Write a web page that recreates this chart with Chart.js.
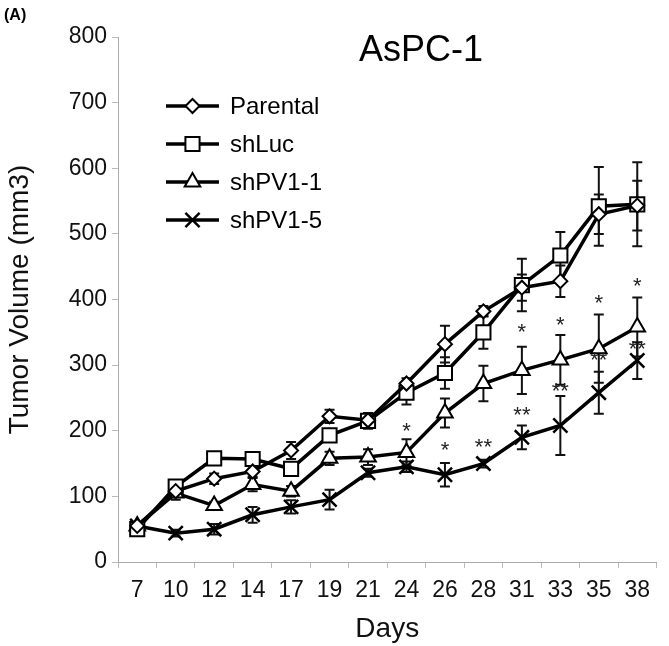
<!DOCTYPE html>
<html>
<head>
<meta charset="utf-8">
<script src="https://cdn.jsdelivr.net/npm/chart.js@4.4.0/dist/chart.umd.min.js"></script>
<style>
  html, body { margin: 0; padding: 0; background: #fff; }
  #wrap { position: relative; width: 669px; height: 646px; }
  #tag { position: absolute; left: 4px; top: 6px; font: bold 16px "Liberation Sans", Arial, sans-serif; color: #000; }
</style>
</head>
<body>
<div id="wrap">
  <canvas id="c" width="669" height="646"></canvas>
  <div id="tag">(A)</div>
</div>
<script>
const days = ['7','10','12','14','17','19','21','24','26','28','31','33','35','38'];
const seriesNames = ['Parental','shLuc','shPV1-1','shPV1-5'];
const parental   = [55, 108, 127, 138, 170, 222, 216, 272, 332, 382, 418, 428, 530, 543];
const shLuc      = [50, 115, 158, 157, 142, 193, 215, 258, 288, 350, 422, 467, 542, 545];
const shPV1_1    = [55, 105, 86, 118, 108, 158, 160, 167, 227, 272, 292, 308, 325, 358];
const shPV1_5    = [55, 44, 50, 72, 84, 95, 136, 145, 133, 150, 190, 208, 258, 307];
const errParental = [5, 8, 8, 8, 13, 10, 8, 8, 28, 8, 20, 24, 30, 38];
const errShLuc    = [5, 8, 6, 6, 8, 8, 12, 18, 24, 25, 40, 36, 60, 64];
const errShPV1_1  = [5, 10, 6, 10, 8, 10, 12, 20, 22, 27, 36, 38, 52, 45];
const errShPV1_5  = [5, 5, 8, 12, 10, 15, 6, 8, 18, 6, 18, 45, 32, 28];
const sigDays   = ['24','26','28','31','31','33','33','35','35','38','38'];
const sigValues = [205, 176, 180, 355, 228, 366, 265, 400, 312, 426, 330];
const sigTexts  = ['*','*','**','*','**','*','**','*','**','*','**'];
const yTicks = [0,100,200,300,400,500,600,700,800];

const FONT = '"Liberation Sans", Arial, sans-serif';

function mk(label, data, style, radius, err) {
  return {
    label, data, err,
    borderColor: '#000', backgroundColor: '#fff',
    borderWidth: 3.5,
    pointStyle: style, pointRadius: radius, pointHoverRadius: radius,
    pointBorderColor: '#000', pointBackgroundColor: '#fff',
    pointBorderWidth: 2,
    tension: 0, fill: false
  };
}

const datasets = [
  mk(seriesNames[0], parental, 'rectRot', 7, errParental),
  mk(seriesNames[1], shLuc, 'rect', 10, errShLuc),
  mk(seriesNames[2], shPV1_1, 'triangle', 9, errShPV1_1),
  mk(seriesNames[3], shPV1_5, 'crossRot', 10, errShPV1_5)
];
datasets[3].pointBorderWidth = 2.5;

const errorBars = {
  id: 'errorBars',
  beforeDatasetsDraw(chart) {
    const ctx = chart.ctx, x = chart.scales.x, y = chart.scales.y;
    ctx.save();
    ctx.strokeStyle = '#111';
    ctx.lineWidth = 2;
    chart.data.datasets.forEach(ds => {
      ds.data.forEach((v, i) => {
        const px = x.getPixelForValue(i);
        const top = y.getPixelForValue(v + ds.err[i]);
        const bot = y.getPixelForValue(v - ds.err[i]);
        ctx.beginPath();
        ctx.moveTo(px, top); ctx.lineTo(px, bot);
        ctx.moveTo(px - 5, top); ctx.lineTo(px + 5, top);
        ctx.moveTo(px - 5, bot); ctx.lineTo(px + 5, bot);
        ctx.stroke();
      });
    });
    ctx.restore();
  }
};

const extras = {
  id: 'extras',
  afterDraw(chart) {
    const ctx = chart.ctx, x = chart.scales.x, y = chart.scales.y, ca = chart.chartArea;
    ctx.save();
    // significance marks
    ctx.fillStyle = '#222';
    ctx.font = '22px ' + FONT;
    ctx.textAlign = 'center';
    ctx.textBaseline = 'middle';
    sigDays.forEach((d, i) => {
      const px = x.getPixelForValue(days.indexOf(d));
      const py = y.getPixelForValue(sigValues[i]);
      ctx.fillText(sigTexts[i], px, py + 4);
    });
    // title
    ctx.fillStyle = '#000';
    ctx.font = '36px ' + FONT;
    ctx.fillText('AsPC-1', ca.left + 303, ca.top + 14);
    // legend
    const lx0 = ca.left + 48, lx1 = ca.left + 101, tx = ca.left + 112;
    ctx.font = '24px ' + FONT;
    ctx.textAlign = 'left';
    chart.data.datasets.forEach((ds, i) => {
      const ly = ca.top + 69 + i * 38;
      ctx.strokeStyle = '#000';
      ctx.lineWidth = 3.5;
      ctx.beginPath(); ctx.moveTo(lx0, ly); ctx.lineTo(lx1, ly); ctx.stroke();
      ctx.fillStyle = '#fff';
      ctx.strokeStyle = '#000';
      ctx.lineWidth = ds.pointBorderWidth;
      Chart.helpers.drawPoint(ctx, {
        pointStyle: ds.pointStyle, radius: ds.pointRadius, borderWidth: ds.pointBorderWidth, rotation: 0
      }, (lx0 + lx1) / 2, ly);
      ctx.fillStyle = '#000';
      ctx.fillText(ds.label, tx, ly + 1);
    });
    ctx.restore();
  }
};

new Chart(document.getElementById('c'), {
  type: 'line',
  data: { labels: days, datasets },
  options: {
    responsive: false,
    animation: false,
    layout: { padding: { top: 37, right: 5, left: 0, bottom: 0 } },
    plugins: { legend: { display: false }, tooltip: { enabled: false }, title: { display: false } },
    scales: {
      x: {
        type: 'category',
        offset: true,
        grid: { offset: true, drawOnChartArea: false, drawTicks: true, tickLength: 6, color: '#bbb' },
        border: { color: '#aaa', width: 1 },
        ticks: { color: '#111', font: { family: FONT, size: 23 }, padding: 9, maxRotation: 0, autoSkip: false },
        title: { display: true, text: 'Days', color: '#111', font: { family: FONT, size: 28 }, padding: { top: 0, bottom: 0 } },
        afterFit(s) { s.height = 84; }
      },
      y: {
        min: 0, max: 800,
        afterBuildTicks(s) { s.ticks = yTicks.map(v => ({ value: v })); },
        grid: { drawOnChartArea: false, drawTicks: true, tickLength: 6, color: '#bbb' },
        border: { color: '#aaa', width: 1 },
        ticks: { color: '#111', font: { family: FONT, size: 23 }, padding: 5 },
        title: { display: true, text: 'Tumor Volume (mm3)', color: '#111', font: { family: FONT, size: 28 }, padding: { top: 3, bottom: 0 } },
        afterFit(s) { s.width = 118; }
      }
    }
  },
  plugins: [errorBars, extras]
});
</script>
</body>
</html>
